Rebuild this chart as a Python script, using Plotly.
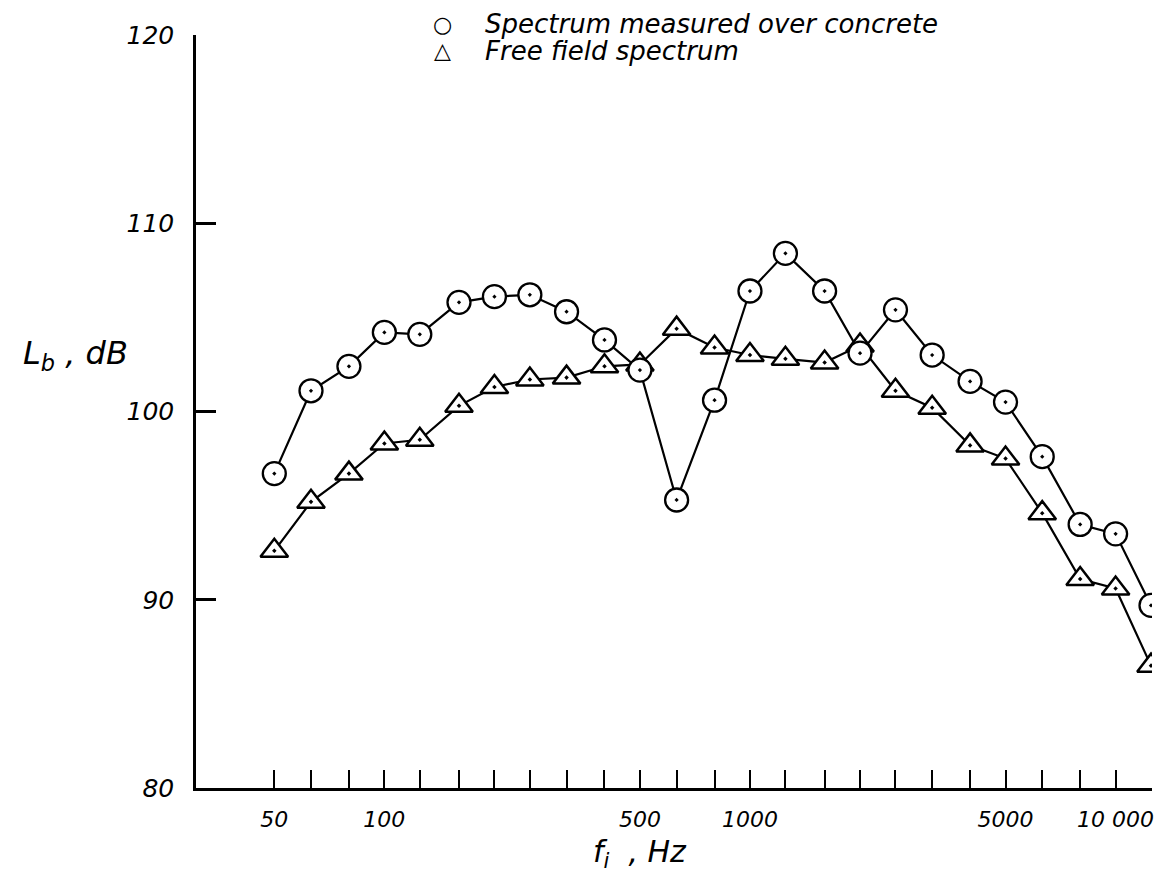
import plotly.graph_objects as go

freqs = [50, 63, 80, 100, 125, 160, 200, 250, 315, 400, 500, 630, 800, 1000,
         1250, 1600, 2000, 2500, 3150, 4000, 5000, 6300, 8000, 10000, 12500]
concrete = [96.7, 101.1, 102.4, 104.2, 104.1, 105.8, 106.1, 106.2, 105.3, 103.8,
            102.2, 95.3, 100.6, 106.4, 108.4, 106.4, 103.1, 105.4, 103.0, 101.6,
            100.5, 97.6, 94.0, 93.5, 89.7]
free_field = [92.6, 95.2, 96.7, 98.3, 98.5, 100.3, 101.3, 101.7, 101.8, 102.4,
              102.5, 104.4, 103.4, 103.0, 102.8, 102.6, 103.5, 101.1, 100.2, 98.2,
              97.5, 94.6, 91.1, 90.6, 86.5]
x_labels = {50: "50", 100: "100", 500: "500", 1000: "1000", 5000: "5000", 10000: "10 000"}
y_ticks = [80, 90, 100, 110, 120]
legend_names = ["Spectrum measured over concrete", "Free field spectrum"]
legend_symbols = ["○", "△"]

FONT = "DejaVu Sans"

fig = go.Figure()
fig.add_trace(go.Scatter(
    x=freqs, y=free_field, mode="lines+markers", name=legend_names[1], showlegend=False,
    line=dict(color="black", width=2.2),
    marker=dict(symbol="triangle-up-dot", size=24, color="white",
                line=dict(color="black", width=2.5)),
))
fig.add_trace(go.Scatter(
    x=freqs, y=concrete, mode="lines+markers", name=legend_names[0], showlegend=False,
    line=dict(color="black", width=2.2),
    marker=dict(symbol="circle-dot", size=23, color="white",
                line=dict(color="black", width=2.3)),
))

annotations = [
    dict(text="L<sub>b</sub> , dB", xref="paper", yref="paper",
         x=-0.183, y=0.575, xanchor="left", yanchor="middle",
         showarrow=False, font=dict(size=32, style="italic")),
    dict(text="f<sub>i</sub>  , Hz", xref="paper", yref="paper",
         x=0.464, y=-0.087, xanchor="center", yanchor="middle",
         showarrow=False, font=dict(size=30, style="italic")),
]
legend_y = [1.0146, 0.9788]
for name, sym, ly in zip(legend_names, legend_symbols, legend_y):
    annotations.append(dict(text=sym, xref="paper", yref="paper", x=0.258, y=ly,
                            xanchor="center", yanchor="middle", showarrow=False,
                            font=dict(size=22)))
    annotations.append(dict(text=name, xref="paper", yref="paper", x=0.300, y=ly,
                            xanchor="left", yanchor="middle", showarrow=False,
                            font=dict(size=26, style="italic")))

fig.update_layout(
    width=1167, height=879, autosize=False,
    margin=dict(l=188, r=23, t=27, b=99, autoexpand=False),
    paper_bgcolor="white", plot_bgcolor="white",
    font=dict(family=FONT, color="black"),
    showlegend=False,
    xaxis=dict(
        type="log", range=[1.4848, 4.0996], automargin=False,
        tickvals=freqs,
        ticktext=[x_labels.get(f, "") for f in freqs],
        ticks="inside", ticklen=18, tickwidth=2, tickcolor="black",
        showline=True, linecolor="black", linewidth=2.5,
        showgrid=False, zeroline=False,
        tickfont=dict(size=22, style="italic"),
        ticklabelstandoff=10,
    ),
    yaxis=dict(
        range=[80, 120], tickvals=y_ticks, automargin=False,
        ticks="inside", ticklen=20, tickwidth=2.5, tickcolor="black",
        showline=True, linecolor="black", linewidth=2.5,
        showgrid=False, zeroline=False,
        tickfont=dict(size=25, style="italic"),
        ticklabelstandoff=14,
    ),
    annotations=annotations,
)

fig.write_html("out.html")
